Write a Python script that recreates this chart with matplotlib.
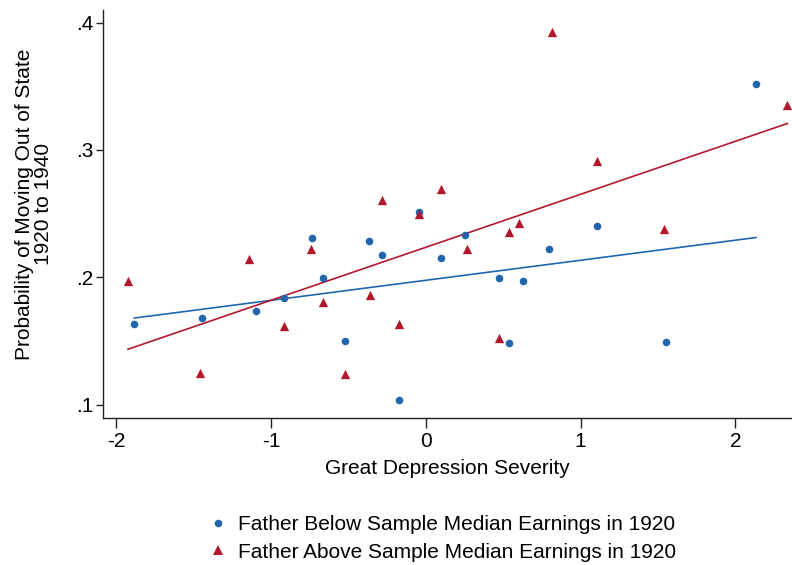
import numpy as np
import matplotlib
matplotlib.use("Agg")
import matplotlib.pyplot as plt
from matplotlib.ticker import FuncFormatter
from matplotlib.lines import Line2D

plt.rcParams['font.family'] = ['Liberation Sans', 'DejaVu Sans']

below_x = [-1.882, -1.443, -1.098, -0.913, -0.736, -0.665, -0.521, -0.368, -0.284, -0.171,
           -0.043, 0.100, 0.252, 0.475, 0.540, 0.629, 0.795, 1.105, 1.550, 2.134]
below_y = [0.1634, 0.1677, 0.1734, 0.1836, 0.2312, 0.1993, 0.1501, 0.2283, 0.2176, 0.1038,
           0.2511, 0.2152, 0.2330, 0.1995, 0.1485, 0.1972, 0.2223, 0.2403, 0.1491, 0.3518]

above_x = [-1.923, -1.456, -1.141, -0.913, -0.739, -0.661, -0.523, -0.360, -0.282, -0.172,
           -0.041, 0.097, 0.265, 0.474, 0.540, 0.601, 0.816, 1.109, 1.541, 2.336]
above_y = [0.1972, 0.1245, 0.2144, 0.1616, 0.2218, 0.1802, 0.1242, 0.1857, 0.2609, 0.1630,
           0.2498, 0.2689, 0.2223, 0.1524, 0.2356, 0.2427, 0.3926, 0.2909, 0.2375, 0.3349]

# fitted lines (intercept, slope)
below_fit = [0.1976, 0.01574]
above_fit = [0.2235, 0.04161]

x_ticks = [-2, -1, 0, 1, 2]
y_ticks = [0.1, 0.2, 0.3, 0.4]
labels = ["Father Below Sample Median Earnings in 1920",
          "Father Above Sample Median Earnings in 1920"]

blue = '#2166ac'
red = '#b2182b'
FS = 15

fig = plt.figure(figsize=(7.92, 5.65), dpi=100)
ax = fig.add_axes([0.130, 0.260, 0.870, 0.722])

ax.scatter(below_x, below_y, s=30, color=blue, marker='o', linewidths=0, zorder=3)
ax.scatter(above_x, above_y, s=45, color=red, marker='^', linewidths=0, zorder=3)

for xs, fit, c in [(below_x, below_fit, blue), (above_x, above_fit, red)]:
    xx = np.array([min(xs), max(xs)])
    ax.plot(xx, fit[0] + fit[1] * xx, color=c, lw=1.2, zorder=2)

ax.set_xlim(-2.085, 2.366)
ax.set_ylim(0.0894, 0.4097)
ax.set_xticks(x_ticks)
ax.set_yticks(y_ticks)
ax.xaxis.set_major_formatter(FuncFormatter(lambda v, p: f"{v:g}"))
ax.yaxis.set_major_formatter(FuncFormatter(lambda v, p: f"{v:.1f}".lstrip('0')))
for s in ['top', 'right']:
    ax.spines[s].set_visible(False)
for s in ['left', 'bottom']:
    ax.spines[s].set_color('#222222')
    ax.spines[s].set_linewidth(1.0)
ax.tick_params(axis='both', labelsize=FS, color='#222222', width=1.0)
ax.tick_params(axis='x', length=7, pad=3)
ax.tick_params(axis='y', length=5, pad=2)

ax.set_xlabel("Great Depression Severity", fontsize=FS, labelpad=6)
ax.set_ylabel("Probability of Moving Out of State\n1920 to 1940", fontsize=FS,
              linespacing=1.0)
ax.yaxis.set_label_coords(-0.0726, 0.5245)

handles = [Line2D([], [], marker='o', color=blue, ls='none', markersize=5.5, markeredgewidth=0),
           Line2D([], [], marker='^', color=red, ls='none', markersize=6.5, markeredgewidth=0)]
fig.legend(handles, labels, loc='center', bbox_to_anchor=(0.5575, 0.0469), frameon=False,
           fontsize=FS, handletextpad=0.45, labelspacing=0.4, handlelength=1.0)

fig.savefig("out.png", dpi=100)
